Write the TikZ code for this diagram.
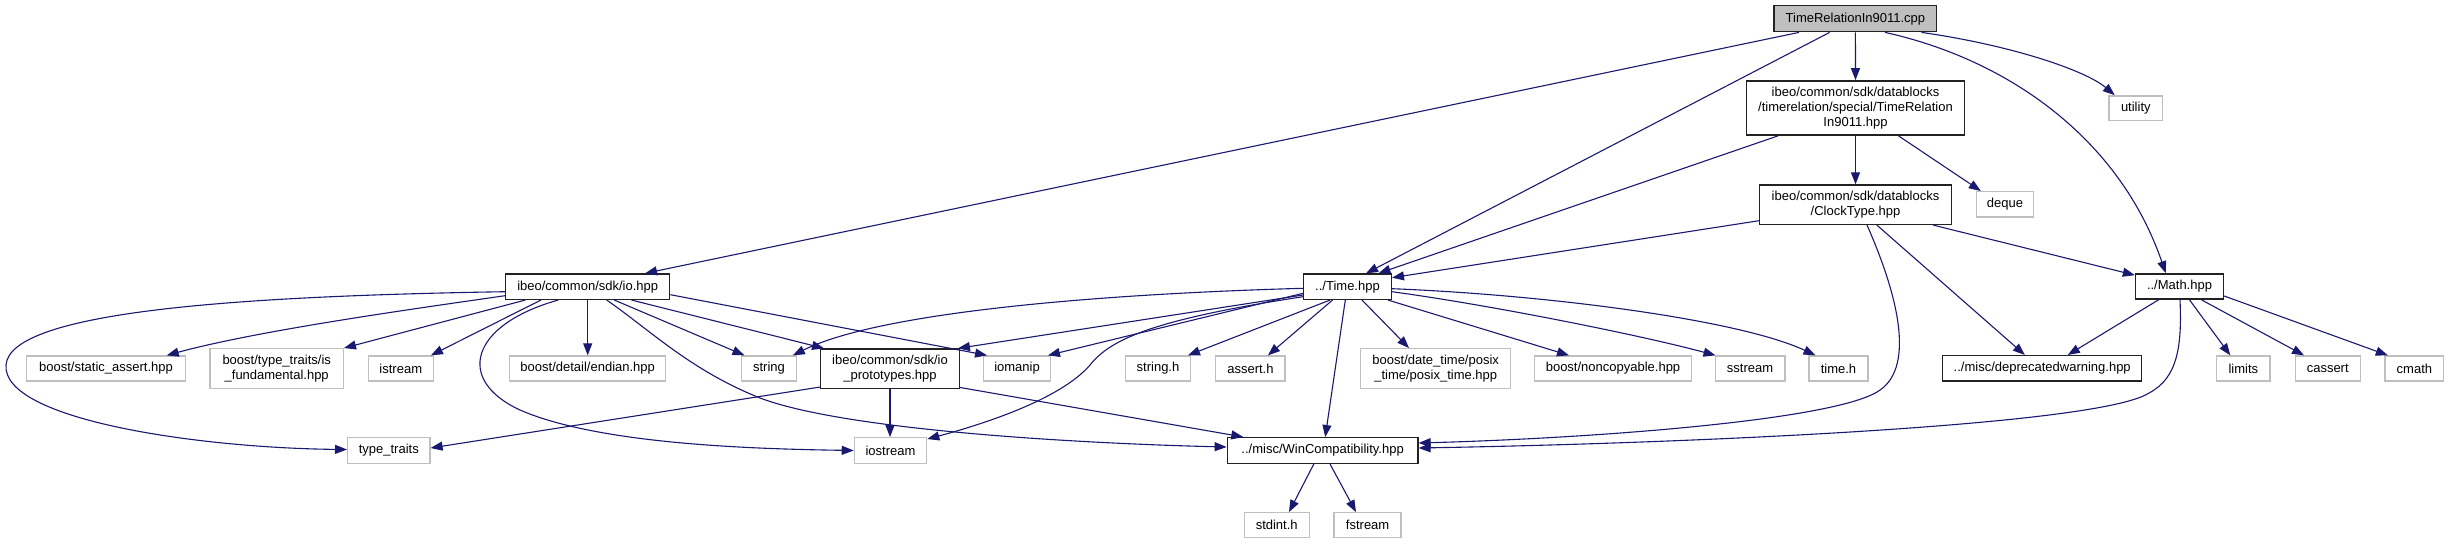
\documentclass[tikz,border=0pt]{standalone}
\usepackage{fontspec}
\setmainfont{Liberation Sans}
\usetikzlibrary{arrows.meta}
\definecolor{edgeblue}{HTML}{191970}
\definecolor{lgray}{HTML}{BFBFBF}
\definecolor{dkborder}{HTML}{222222}
\begin{document}
\begin{tikzpicture}[x=1pt,y=-1pt,
  nd/.style={draw=dkborder, line width=1.4pt, fill=white, inner sep=0pt, align=center,
    font=\fontsize{13}{15.2}\selectfont, minimum height=25.3pt},
  gr/.style={nd, draw=lgray, line width=1.3pt},
  edge/.style={draw=edgeblue, line width=1.1pt, -{Triangle[length=12pt,width=9pt]}}
]
\useasboundingbox[fill=white] (0,0) rectangle (2449,544);

% row 0-2
\node[nd, fill=lgray, minimum width=162.6pt, minimum height=26pt] (cpp) at (1855.4,18.7) {TimeRelationIn9011.cpp};
\node[nd, minimum width=218.5pt, minimum height=54.3pt] (tr) at (1855.5,108) {ibeo/common/sdk/datablocks\\/timerelation/special/TimeRelation\\In9011.hpp};
\node[gr, minimum width=53.5pt, minimum height=24.3pt] (utility) at (2135.8,108) {utility};
\node[nd, minimum width=191.7pt, minimum height=39.3pt] (clock) at (1855.5,204.7) {ibeo/common/sdk/datablocks\\/ClockType.hpp};
\node[gr, minimum width=57.4pt] (deque) at (2005,204.3) {deque};

% row 3
\node[nd, minimum width=164pt] (io) at (587.7,286.7) {ibeo/common/sdk/io.hpp};
\node[nd, minimum width=87.6pt] (time) at (1347.5,286.7) {../Time.hpp};
\node[nd, minimum width=88pt] (math) at (2179.5,286.5) {../Math.hpp};

% row 4
\node[gr, minimum width=158.6pt, minimum height=25pt] (static) at (106,368.5) {boost/static\_assert.hpp};
\node[gr, minimum width=133.3pt, minimum height=39.6pt] (isfund) at (276.7,368.5) {boost/type\_traits/is\\\_fundamental.hpp};
\node[gr, minimum width=65pt, minimum height=25pt] (istream) at (400.8,368.5) {istream};
\node[gr, minimum width=155.8pt, minimum height=25pt] (endian) at (587.7,368.5) {boost/detail/endian.hpp};
\node[gr, minimum width=54.4pt, minimum height=25pt] (string) at (769,368.5) {string};
\node[nd, minimum width=138.5pt, minimum height=39.3pt] (iop) at (890,368.7) {ibeo/common/sdk/io\\\_prototypes.hpp};
\node[gr, minimum width=66.6pt, minimum height=25pt] (iomanip) at (1017,368.5) {iomanip};
\node[gr, minimum width=64.6pt, minimum height=25pt] (stringh) at (1158,368.5) {string.h};
\node[gr, minimum width=69.3pt, minimum height=25pt] (asserth) at (1250.4,368.5) {assert.h};
\node[gr, minimum width=150.2pt, minimum height=39.6pt] (posix) at (1435.7,368.5) {boost/date\_time/posix\\\_time/posix\_time.hpp};
\node[gr, minimum width=156.5pt, minimum height=25pt] (noncopy) at (1613,368.5) {boost/noncopyable.hpp};
\node[gr, minimum width=69.7pt, minimum height=25pt] (sstream) at (1750,368.5) {sstream};
\node[gr, minimum width=59.2pt, minimum height=25pt] (timeh) at (1838.5,368.5) {time.h};
\node[nd, minimum width=199.1pt] (depr) at (2042.2,368.3) {../misc/deprecatedwarning.hpp};
\node[gr, minimum width=53.1pt, minimum height=25pt] (limits) at (2243.3,368.5) {limits};
\node[gr, minimum width=64.9pt, minimum height=25pt] (cassert) at (2327.7,368.5) {cassert};
\node[gr, minimum width=58.7pt, minimum height=25pt] (cmath) at (2414.4,368.5) {cmath};

% row 5
\node[gr, minimum width=82.3pt, minimum height=25.6pt] (tt) at (388.8,450.5) {type\_traits};
\node[gr, minimum width=72.3pt, minimum height=25.6pt] (iostream) at (890.5,450.5) {iostream};
\node[nd, minimum width=190.6pt, minimum height=25.6pt] (win) at (1322.6,450.5) {../misc/WinCompatibility.hpp};

% row 6
\node[gr, minimum width=65pt, minimum height=25pt] (stdint) at (1276.7,525.2) {stdint.h};
\node[gr, minimum width=67pt, minimum height=25pt] (fstream) at (1367.6,525.2) {fstream};

% edges from cpp
\draw[edge] ([xshift=-56.4pt]cpp.south) -- ([xshift=57.3pt]io.north);
\draw[edge] ([xshift=-25.8pt]cpp.south) -- ([xshift=18.5pt]time.north);
\draw[edge] (cpp.south) -- (tr.north);
\draw[edge] ([xshift=29.6pt]cpp.south) .. controls (2010,60) and (2120,140) .. ([xshift=-13.8pt]math.north);
\draw[edge] ([xshift=66.1pt]cpp.south) .. controls (2010,45) and (2085,70) .. ([xshift=-21.1pt]utility.north);

% edges from tr
\draw[edge] ([xshift=-77.5pt]tr.south) -- ([xshift=31pt]time.north);
\draw[edge] (tr.south) -- (clock.north);
\draw[edge] ([xshift=43pt]tr.south) -- ([xshift=-24.2pt]deque.north);

% edges from clock
\draw[edge] ([yshift=-16pt]clock.west) -- ([yshift=9pt]time.east);
\draw[edge] ([xshift=77.5pt]clock.south) -- ([yshift=-2pt]math.north west);
\draw[edge] ([xshift=21.3pt]clock.south) -- ([xshift=-17.4pt]depr.north);
\draw[edge] ([xshift=11.5pt]clock.south) .. controls (1900,300) and (1915,370) .. (1877,392)
  .. controls (1830,420) and (1600,438) .. ([yshift=7.5pt]win.east);

% edges from io
\draw[edge] ([yshift=-5pt]io.west) .. controls (250,296) and (10,310) .. (6,365)
  .. controls (2,420) and (200,448) .. ([yshift=1pt]tt.west);
\draw[edge] ([yshift=-9pt]io.west) .. controls (420,308) and (260,330) .. ([xshift=60.7pt]static.north);
\draw[edge] ([xshift=20.3pt]io.south west) -- (isfund.north east);
\draw[edge] ([xshift=35.9pt]io.south west) -- ([xshift=-3pt]istream.north east);
\draw[edge] ([xshift=53.1pt]io.south west) .. controls (470,325) and (455,380) .. (520,410)
  .. controls (600,445) and (760,449) .. (iostream.west);
\draw[edge] (io.south) -- (endian.north);
\draw[edge] ([xshift=19pt]io.south) .. controls (650,330) and (690,370) .. (760,398)
  .. controls (850,432) and (1100,444) .. ([yshift=3.5pt]win.west);
\draw[edge] ([xshift=26.6pt]io.south) -- ([xshift=3.3pt]string.north west);
\draw[edge] ([xshift=43.8pt]io.south) -- ([xshift=4pt]iop.north west);
\draw[edge] ([yshift=-8pt]io.east) -- ([xshift=4pt]iomanip.north west);

% edges from io_prototypes
\draw[edge] ([yshift=2pt]iop.south west) -- ([yshift=2.5pt]tt.east);
\draw[edge] (iop.south) -- ([xshift=-0.5pt]iostream.north);
\draw[edge] ([yshift=1.6pt]iop.south east) -- ([xshift=16.7pt]win.north west);

% edges from Time
\draw[edge] ([yshift=-1.6pt]time.west) .. controls (1100,294) and (880,312) .. ([xshift=-4pt]string.north east);
\draw[edge] ([yshift=-6.6pt]time.west) -- ([xshift=-3pt]iomanip.north east);
\draw[edge] ([yshift=-8.3pt]time.west) -- ([xshift=-2pt]iop.north east);
\draw[edge] ([yshift=-10pt]time.west) .. controls (1150,320) and (1110,340) .. (1090,365)
  .. controls (1060,400) and (980,425) .. ([yshift=-2pt]iostream.north east);
\draw[edge] ([xshift=-17.5pt]time.south) -- ([xshift=-3pt]stringh.north east);
\draw[edge] ([xshift=-15pt]time.south) -- ([xshift=17.5pt]asserth.north);
\draw[edge] ([xshift=-2.2pt]time.south) -- ([xshift=2.6pt]win.north);
\draw[edge] ([xshift=14.5pt]time.south) -- ([xshift=-26.7pt]posix.north);
\draw[edge] ([xshift=-4pt]time.south east) -- ([xshift=-44pt]noncopy.north);
\draw[edge] ([yshift=-5pt]time.east) .. controls (1490,305) and (1640,335) .. ([xshift=1pt]sstream.north west);
\draw[edge] ([yshift=-2pt]time.east) .. controls (1550,295) and (1740,320) .. ([xshift=-23pt]timeh.north);

% edges from Math
\draw[edge] ([xshift=-21pt]math.south) -- ([xshift=25.6pt]depr.north);
\draw[edge] ([xshift=10pt]math.south) -- ([xshift=-13pt]limits.north);
\draw[edge] ([xshift=22pt]math.south) -- ([xshift=-23.7pt]cassert.north);
\draw[edge] ([yshift=-9.5pt]math.east) -- ([xshift=-26.6pt]cmath.north);
\draw[edge] ([xshift=0.5pt]math.south) .. controls (2182,345) and (2178,378) .. (2149,393)
  .. controls (2100,425) and (1700,443) .. ([yshift=2.5pt]win.east);

% edges from WinCompatibility
\draw[edge] ([xshift=-8.8pt]win.south) -- ([xshift=12.3pt]stdint.north);
\draw[edge] ([xshift=7.4pt]win.south) -- ([xshift=-11.6pt]fstream.north);
\end{tikzpicture}
\end{document}
